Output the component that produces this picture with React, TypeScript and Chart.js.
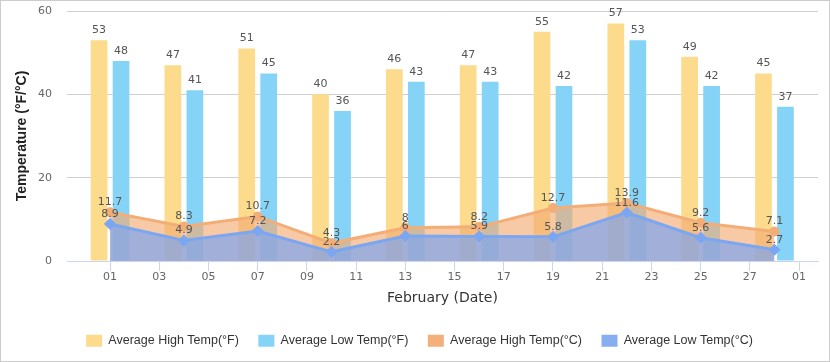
import React, { useEffect, useRef } from 'react';
import { Chart, registerables } from 'chart.js';

Chart.register(...registerables);

// February dates (day of month) of each observation
const days = [1, 4, 7, 10, 13, 16, 19, 22, 25, 28];
const highF = [53, 47, 51, 40, 46, 47, 55, 57, 49, 45];
const lowF = [48, 41, 45, 36, 43, 43, 42, 53, 42, 37];
const highC = [11.7, 8.3, 10.7, 4.3, 8, 8.2, 12.7, 13.9, 9.2, 7.1];
const lowC = [8.9, 4.9, 7.2, 2.2, 6, 5.9, 5.8, 11.6, 5.6, 2.7];
const xTickLabels = ['01', '03', '05', '07', '09', '11', '13', '15', '17', '19', '21', '23', '25', '27', '01'];
const seriesLabels = [
  'Average High Temp(°F)',
  'Average Low Temp(°F)',
  'Average High Temp(°C)',
  'Average Low Temp(°C)',
];
const legendColors = ['#FDDB8C', '#86D3F8', '#F4B07A', '#86AEF0'];

const toPoints = (vals: number[]) => days.map((d, i) => ({ x: d - 1, y: vals[i] }));

const valueLabels = {
  id: 'valueLabels',
  afterDatasetsDraw(chart: any) {
    const ctx = chart.ctx;
    ctx.save();
    ctx.font = '11px "DejaVu Sans"';
    ctx.fillStyle = '#555555';
    ctx.textAlign = 'center';
    ctx.textBaseline = 'middle';
    chart.data.datasets.forEach((ds: any, i: number) => {
      const meta = chart.getDatasetMeta(i);
      meta.data.forEach((el: any, j: number) => {
        const v = ds.data[j].y;
        ctx.fillText(String(v), el.x, el.y - 10);
      });
    });
    ctx.restore();
  },
};

const legendShift = {
  id: 'legendShift',
  afterLayout(chart: any) {
    if (chart.legend) {
      chart.legend.left += 5.7;
      chart.legend.right += 5.7;
    }
  },
};

export default function App() {
  const ref = useRef<HTMLCanvasElement>(null);

  useEffect(() => {
    const chart = new Chart(ref.current as HTMLCanvasElement, {
      type: 'line',
      data: {
        datasets: [
          {
            type: 'bar',
            label: seriesLabels[0],
            data: toPoints(highF),
            backgroundColor: '#FDDB8C',
            borderWidth: 0,
            order: 2,
            categoryPercentage: 0.894,
            barPercentage: 0.76,
          } as any,
          {
            type: 'bar',
            label: seriesLabels[1],
            data: toPoints(lowF),
            backgroundColor: '#86D3F8',
            borderWidth: 0,
            order: 2,
            categoryPercentage: 0.894,
            barPercentage: 0.76,
          } as any,
          {
            type: 'line',
            label: seriesLabels[2],
            data: toPoints(highC),
            borderColor: '#F3AE78',
            backgroundColor: 'rgba(243,172,115,0.65)',
            borderWidth: 3,
            fill: 'origin',
            tension: 0,
            pointStyle: 'circle',
            pointRadius: 3.5,
            pointBackgroundColor: '#F3AE78',
            pointBorderColor: '#F3AE78',
            order: 1,
          } as any,
          {
            type: 'line',
            label: seriesLabels[3],
            data: toPoints(lowC),
            borderColor: '#7BA6F2',
            backgroundColor: 'rgba(125,165,240,0.7)',
            borderWidth: 3,
            fill: 'origin',
            tension: 0,
            pointStyle: 'rectRot',
            pointRadius: 4,
            pointBackgroundColor: '#7BA6F2',
            pointBorderColor: '#7BA6F2',
            order: 0,
          } as any,
        ],
      },
      options: {
        animation: false,
        responsive: true,
        maintainAspectRatio: false,
        layout: { padding: { top: 10, right: 11, bottom: 4, left: 8.6 } },
        plugins: {
          tooltip: { enabled: false },
          legend: {
            position: 'bottom',
            labels: {
              boxWidth: 16,
              boxHeight: 12,
              padding: 19.5,
              color: '#333333',
              font: { family: '"Liberation Sans", Arial, sans-serif', size: 12.5 },
              generateLabels: (chart: any) =>
                chart.data.datasets.map((ds: any, i: number) => ({
                  text: ds.label,
                  fillStyle: legendColors[i],
                  strokeStyle: legendColors[i],
                  lineWidth: 0,
                  hidden: false,
                  datasetIndex: i,
                  fontColor: '#333333',
                })),
            },
          },
        },
        scales: {
          x: {
            type: 'linear',
            min: -1.75,
            max: 28.77,
            offset: false,
            afterBuildTicks: (scale: any) => {
              scale.ticks = xTickLabels.map((_, i) => ({ value: i * 2 }));
            },
            afterFit: (scale: any) => {
              scale.height = 54;
            },
            ticks: {
              padding: 0,
              color: '#666666',
              font: { family: '"DejaVu Sans"', size: 11 },
              maxRotation: 0,
              autoSkip: false,
              callback: (_v: any, i: number) => xTickLabels[i],
            },
            grid: {
              display: true,
              offset: false,
              drawOnChartArea: false,
              drawTicks: true,
              tickLength: 10,
              color: '#ccd6eb',
              tickColor: '#ccd6eb',
            },
            border: { display: true, color: '#ccd6eb', width: 1 },
            title: {
              display: true,
              text: 'February (Date)',
              color: '#333333',
              font: { family: '"DejaVu Sans"', size: 14 },
              padding: { top: 5, bottom: 8.6 },
            },
          },
          y: {
            type: 'linear',
            min: 0,
            max: 60,
            afterFit: (scale: any) => {
              scale.width = 57.4;
              scale.paddingTop = 7;
              scale.paddingBottom = 7;
            },
            ticks: {
              stepSize: 20,
              padding: 15,
              color: '#666666',
              font: { family: '"DejaVu Sans"', size: 11 },
            },
            grid: {
              drawTicks: false,
              color: (c: any) => (c.tick && c.tick.value === 0 ? 'rgba(0,0,0,0)' : '#d0d0d0'),
            },
            border: { display: false },
            title: {
              display: true,
              text: 'Temperature (°F/°C)',
              color: '#222222',
              font: { family: '"Liberation Sans", Arial, sans-serif', size: 14, weight: 'bold' },
              padding: { top: 4, bottom: 4 },
            },
          },
        },
      } as any,
      plugins: [valueLabels, legendShift],
    });
    return () => chart.destroy();
  }, []);

  return (
    <div
      style={{
        position: 'absolute',
        left: 0,
        top: 0,
        width: 830,
        height: 362,
        border: '1px solid #cccccc',
        boxSizing: 'border-box',
        background: '#ffffff',
      }}
    >
      <div style={{ position: 'relative', width: 828, height: 360 }}>
        <canvas ref={ref} />
      </div>
    </div>
  );
}
